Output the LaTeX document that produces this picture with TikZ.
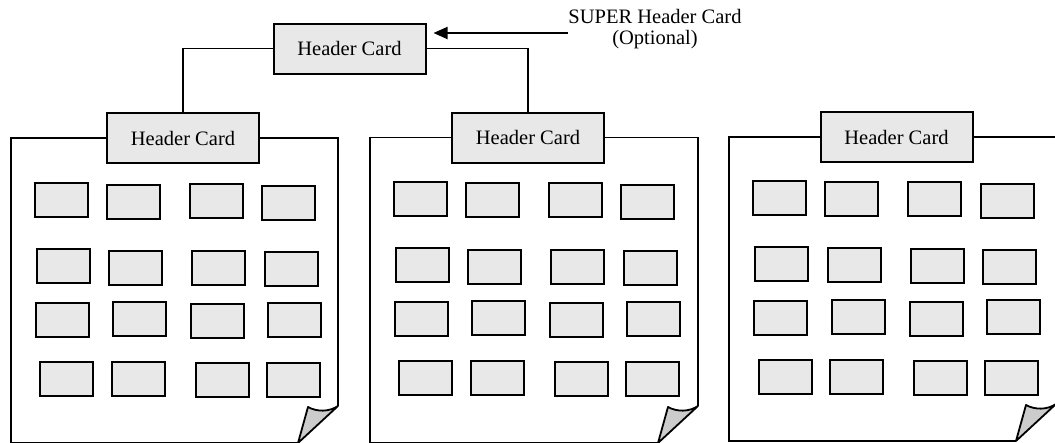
\documentclass[tikz,border=0pt]{standalone}
\usepackage{fontspec}
\setmainfont{Liberation Serif}
\usetikzlibrary{arrows.meta}
\definecolor{cardgray}{HTML}{E8E8E8}
\definecolor{curlgray}{HTML}{CCCCCC}
\newcommand\pagecurl[2]{\path[curlfill] (#1-30,#2-36) .. controls (#1-21,#2-31) and (#1-9,#2-31) .. (#1,#2-37) -- (#1-40,#2) -- cycle;}
\begin{document}
\begin{tikzpicture}[x=1pt,y=-1pt,
  hdr/.style={draw, line width=2pt, fill=cardgray, minimum width=152pt, minimum height=50pt, inner sep=0pt, font=\fontsize{20.5}{24}\selectfont},
  card/.style={draw, line width=2pt, fill=cardgray, minimum width=53pt, minimum height=34pt, inner sep=0pt},
  pageline/.style={line width=1.8pt, line join=miter},
  conn/.style={line width=1.8pt},
  curlfill/.style={draw, line width=1.8pt, fill=curlgray, line join=round}]
\useasboundingbox (0,0) rectangle (1055,442);
\clip (0,0) rectangle (1055,442);
% header cards
\node[hdr] (top) at (349.5,48.5) {Header Card};
\node[hdr] (h1) at (183,138) {Header Card};
\node[hdr] (h2) at (528,137.5) {Header Card};
\node[hdr] (h3) at (896.5,137) {Header Card};
% connectors
\draw[conn] (top.west) -| (h1.north);
\draw[conn] (top.east) -| (h2.north);
% super header label
\node[font=\fontsize{20.5}{21.5}\selectfont, align=center, inner sep=0pt] (super) at (655,29) {SUPER Header Card\\(Optional)};
\coordinate (superTail) at (568,33);
\draw[conn, -{Triangle[length=14pt,width=12pt]}, shorten >=7pt] (superTail) -- (superTail -| top.east);
% pages
\draw[pageline] (h1.west) -- (11,138) -- (11,443) -- (298,443);
\draw[pageline] (h1.east) -- (338,138) -- (338,406);
\pagecurl{338}{443}
\draw[pageline] (h2.west) -- (370,137.5) -- (370,443) -- (658,443);
\draw[pageline] (h2.east) -- (698,137.5) -- (698,406);
\pagecurl{698}{443}
\draw[pageline] (h3.west) -- (729,137) -- (729,441) -- (1016,441);
\draw[pageline] (h3.east) -- (1056,137) -- (1056,404);
\pagecurl{1056}{441}
% cards
\foreach \n/\x/\y in {
  a11/61/200, a12/133.5/201.5, a13/216.5/201, a14/288.5/203,
  a21/63.5/266, a22/135.5/268, a23/218.5/268, a24/291.5/269,
  a31/62.5/320, a32/139.5/318.5, a33/217.5/321, a34/294.5/320,
  a41/66.5/379, a42/138/379, a43/222.5/380, a44/293.5/380,
  b11/420/199, b12/492.5/200, b13/575.5/200, b14/647.5/202,
  b21/422.5/265, b22/494.5/267, b23/577.5/267, b24/650.5/268,
  b31/421.5/319, b32/498.5/317.5, b33/576.5/320, b34/653.5/318.5,
  b41/425.5/378, b42/497/378, b43/581.5/379, b44/652.5/379,
  c11/779.5/198, c12/851.5/199, c13/934.5/199, c14/1007.5/200.5,
  c21/781.5/264, c22/854.5/265, c23/937.5/266, c24/1009.5/267,
  c31/780.5/317.5, c32/858/316.5, c33/936/319, c34/1013/317,
  c41/785.5/377, c42/856.5/377, c43/940.5/378, c44/1011.5/378}
  {\node[card] (\n) at (\x,\y) {};}
\end{tikzpicture}
\end{document}
